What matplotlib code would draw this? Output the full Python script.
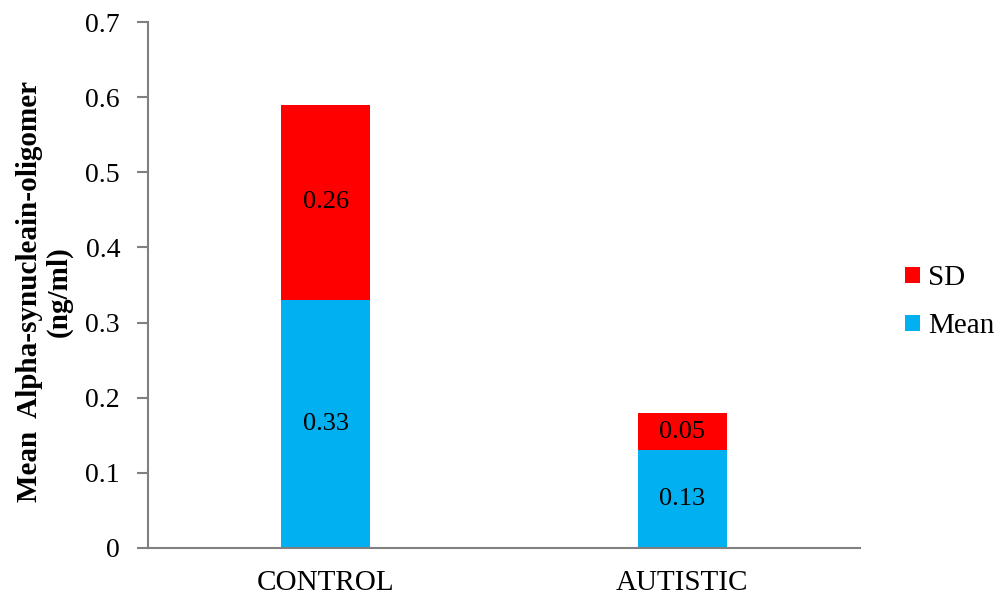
import matplotlib
matplotlib.use("Agg")
import matplotlib.pyplot as plt

# data
groups = ["CONTROL", "AUTISTIC"]
mean_vals = [0.33, 0.13]
sd_vals = [0.26, 0.05]

plt.rcParams["font.family"] = ["Liberation Serif", "DejaVu Serif"]

fig = plt.figure(figsize=(10.06, 5.95), dpi=100)
ax = fig.add_axes([0.147, 0.079, 0.708, 0.884])

x = range(len(groups))
b1 = ax.bar(x, mean_vals, width=0.25, color="#00B0F0", label="Mean")
b2 = ax.bar(x, sd_vals, width=0.25, bottom=mean_vals, color="#FF0000", label="SD")

for i in x:
    ax.text(i, mean_vals[i] / 2, f"{mean_vals[i]:.2f}",
            ha="center", va="center", fontsize=19)
    ax.text(i, mean_vals[i] + sd_vals[i] / 2, f"{sd_vals[i]:.2f}",
            ha="center", va="center", fontsize=19)

ax.set_xlim(-0.5, 1.5)
ax.set_ylim(0, 0.7)
ax.set_yticks([0, 0.1, 0.2, 0.3, 0.4, 0.5, 0.6, 0.7])
ax.set_yticklabels(["0", "0.1", "0.2", "0.3", "0.4", "0.5", "0.6", "0.7"])
ax.set_xticks(list(x))
ax.set_xticklabels(groups)

for s in ["top", "right"]:
    ax.spines[s].set_visible(False)
for s in ["left", "bottom"]:
    ax.spines[s].set_color("#808080")
    ax.spines[s].set_linewidth(1.5)

ax.tick_params(axis="y", length=8, width=1.5, color="#808080",
               labelsize=20, pad=12)
ax.tick_params(axis="x", length=0, labelsize=21, pad=16)

ax.set_ylabel("Mean  Alpha-synucleain-oligomer\n(ng/ml)",
              fontsize=21, fontweight="bold", linespacing=1.1)
ax.yaxis.set_label_coords(-0.106, 0.487)

ax.legend(handles=[b2, b1], labels=["SD", "Mean"], frameon=False,
          loc="center left", bbox_to_anchor=(905 / 1006, 0.492),
          bbox_transform=fig.transFigure,
          fontsize=21, handlelength=0.5, handleheight=0.5,
          handletextpad=0.3, labelspacing=0.75, borderaxespad=0, borderpad=0)

fig.savefig("out.png", dpi=100)
